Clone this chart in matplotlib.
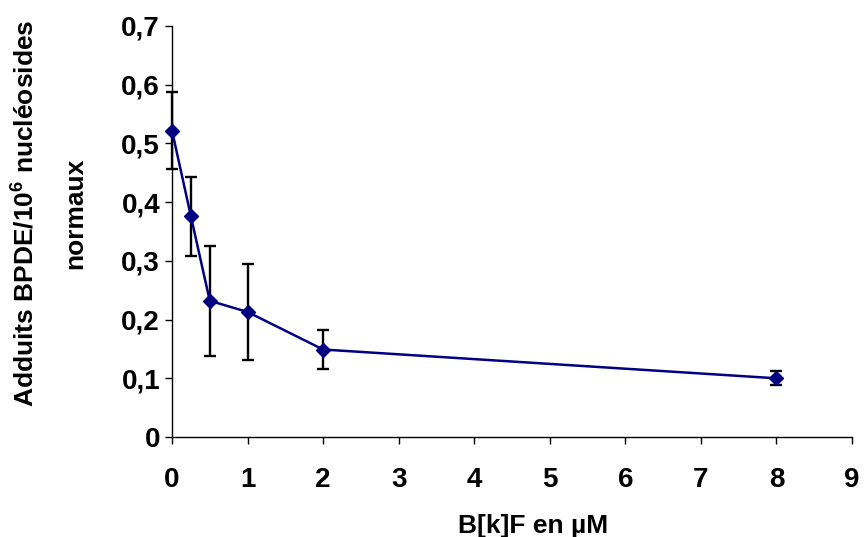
import matplotlib
matplotlib.use('Agg')
import matplotlib.pyplot as plt
from matplotlib.ticker import FuncFormatter

plt.rcParams['font.family'] = 'Liberation Sans'
plt.rcParams['font.weight'] = 'bold'
plt.rcParams['mathtext.fontset'] = 'custom'
plt.rcParams['mathtext.rm'] = 'Liberation Sans:bold'
plt.rcParams['mathtext.bf'] = 'Liberation Sans:bold'

conc = [0, 0.25, 0.5, 1, 2, 8]
adducts = [0.522, 0.376, 0.232, 0.213, 0.149, 0.100]
errors = [0.065, 0.067, 0.094, 0.082, 0.033, 0.012]

xticks = list(range(0, 10))
yticks = [0, 0.1, 0.2, 0.3, 0.4, 0.5, 0.6, 0.7]

fig = plt.figure(figsize=(8.66, 5.37), dpi=100)
ax = fig.add_axes([0.1986, 0.1862, 0.7852, 0.7654])

eb = ax.errorbar(conc, adducts, yerr=errors, fmt='none', ecolor='black',
                 elinewidth=1.7, capsize=4.5, capthick=1.7, zorder=2)
for art in eb.lines[1] + eb.lines[2]:
    art.set_clip_on(False)
ax.plot(conc, adducts, color='#000080', lw=1.8, marker='D', markersize=7.5,
        markerfacecolor='#000080', markeredgecolor='#000080', zorder=3,
        clip_on=False)

ax.set_xlim(0, 9)
ax.set_ylim(0, 0.7)
ax.set_xticks(xticks)
ax.set_yticks(yticks)

def fmt(v, pos):
    if v == 0:
        return '0'
    return ('%.1f' % v).replace('.', ',')

ax.yaxis.set_major_formatter(FuncFormatter(fmt))
ax.tick_params(direction='out', length=5, width=1.0, labelsize=20)
ax.tick_params(axis='x', pad=16.5)
ax.tick_params(axis='y', pad=3.6)
for lab in ax.get_xticklabels() + ax.get_yticklabels():
    lab.set_fontweight('bold')

ax.spines['top'].set_visible(False)
ax.spines['right'].set_visible(False)
ax.spines['left'].set_linewidth(1.0)
ax.spines['bottom'].set_linewidth(1.0)

fig.text(0.6155, 0.0074, 'B[k]F en µM', ha='center', va='baseline',
         fontsize=19, fontweight='bold')
fig.text(0.0381, 0.6034, r'Adduits BPDE/10$^{6}$ nucléosides', rotation=90,
         rotation_mode='anchor', ha='center', va='baseline',
         fontsize=19, fontweight='bold')
fig.text(0.0947, 0.6034, 'normaux', rotation=90,
         rotation_mode='anchor', ha='center', va='baseline',
         fontsize=19, fontweight='bold')

fig.savefig('out.png', dpi=100)
